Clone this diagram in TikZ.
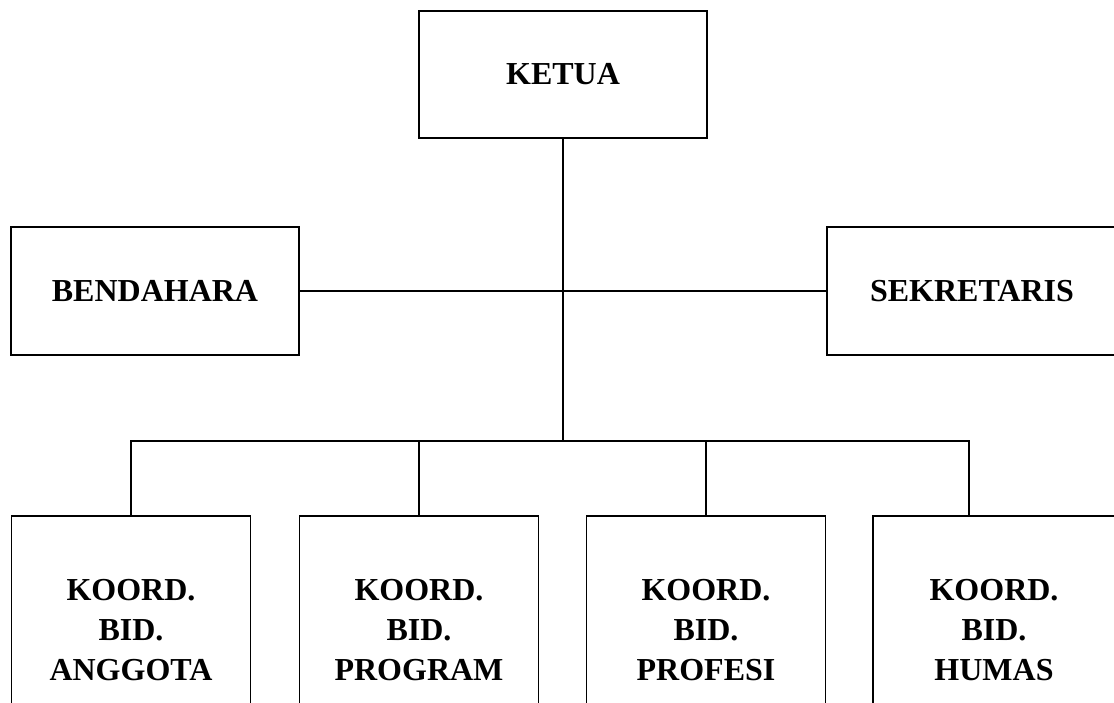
\documentclass[tikz,border=0pt]{standalone}
\usepackage{fontspec}
\setmainfont{Liberation Serif}
\begin{document}
\begin{tikzpicture}[x=1pt,y=-1pt,line width=1.3pt,
    box/.style={draw,rectangle,align=center,inner sep=0pt,
      font=\bfseries\fontsize{32}{40}\selectfont}]
  \useasboundingbox (0,0) rectangle (1114,702);
  \clip (0,0) rectangle (1114,702);
  \draw
    (563,74.5) node[box,minimum width=288pt,minimum height=127pt] (ketua){KETUA}
    (155,291) node[box,minimum width=288pt,minimum height=128pt] (bendahara){BENDAHARA}
    (972,291) node[box,minimum width=290pt,minimum height=128pt] (sekretaris){SEKRETARIS}
    (131,630) node[box,minimum width=239pt,minimum height=228pt] (anggota){KOORD.\\BID.\\ANGGOTA}
    (419,630) node[box,minimum width=239pt,minimum height=228pt] (program){KOORD.\\BID.\\PROGRAM}
    (706,630) node[box,minimum width=239pt,minimum height=228pt] (profesi){KOORD.\\BID.\\PROFESI}
    (994,630) node[box,minimum width=242pt,minimum height=228pt] (humas){KOORD.\\BID.\\HUMAS};
  \coordinate (bus) at (563,441);
  \begin{scope}[-]
    \draw (ketua) to (bus);
    \draw (bendahara) to (sekretaris);
    \draw (anggota.north) |- (bus);
    \draw (bus) -| ([xshift=-25pt]humas.north);
    \draw (program.north) to (program.north |- bus);
    \draw (profesi.north) to (profesi.north |- bus);
  \end{scope}
\end{tikzpicture}
\end{document}
